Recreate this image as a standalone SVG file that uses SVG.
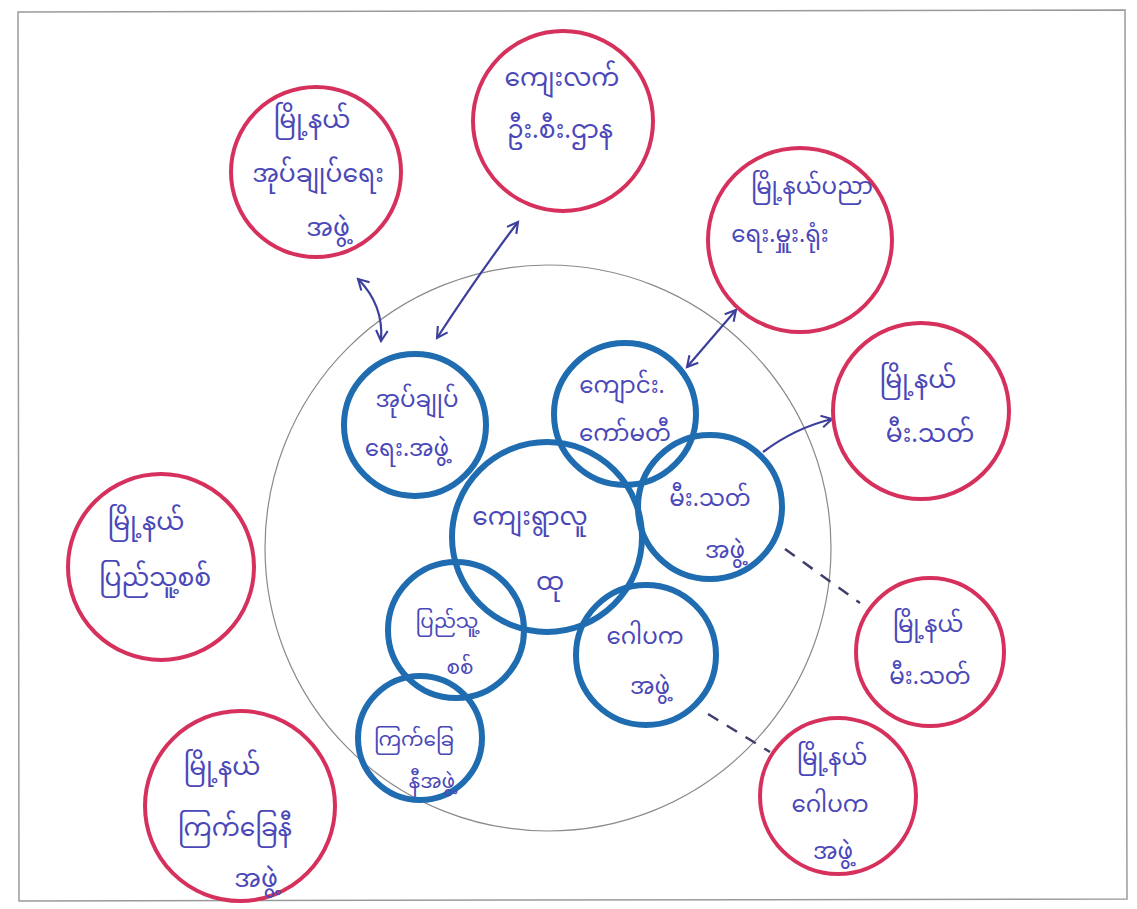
<svg xmlns="http://www.w3.org/2000/svg" width="1137" height="909" viewBox="0 0 1137 909">
<style>
.red{fill:none;stroke:#d6315c;stroke-width:4}
.blue{fill:none;stroke:#1f6cb0;stroke-width:6}
.t{font-family:"Noto Sans Myanmar","Padauk","Myanmar Text","Noto Sans","DejaVu Sans",sans-serif;fill:#4a48b8;text-anchor:middle}
.r{font-size:25px}
.b{font-size:23px}
.s{font-size:20px}
.arr{fill:none;stroke:#3d3f9c;stroke-width:2.2}
.dash{fill:none;stroke:#3d3f6a;stroke-width:2.5;stroke-dasharray:12 10}
</style>
<defs>
<marker id="ah" viewBox="0 0 12 12" refX="10" refY="6" markerWidth="14" markerHeight="14" markerUnits="userSpaceOnUse" orient="auto-start-reverse">
<path d="M1,1 L10,6 L1,11" fill="none" stroke="#3d3f9c" stroke-width="1.8"/>
</marker>
</defs>
<rect width="1137" height="909" fill="#ffffff"/>
<path d="M18,12 L1125,10 L1127,899 L19,901 Z" fill="none" stroke="#9a9a9a" stroke-width="1.5"/>
<circle cx="548" cy="548" r="283" fill="none" stroke="#8a8a8a" stroke-width="1.2"/>
<g id="connectors">
<path class="arr" d="M358,279 Q384,305 381,341" marker-start="url(#ah)" marker-end="url(#ah)"/>
<path class="arr" d="M518,222 Q478,275 437,338" marker-start="url(#ah)" marker-end="url(#ah)"/>
<path class="arr" d="M736,310 L687,367" marker-start="url(#ah)" marker-end="url(#ah)"/>
<path class="arr" d="M763,452 Q795,428 832,419" marker-end="url(#ah)"/>
<path class="dash" d="M785,549 L860,603"/>
<path class="dash" d="M708,714 L770,752"/>
</g>
<g id="n-township-admin"><circle class="red" cx="316" cy="172" r="85"/>
<text class="t r" x="312" y="128">မြို့နယ်</text><text class="t r" x="318" y="182">အုပ်ချုပ်ရေး</text><text class="t r" x="328" y="236">အဖွဲ့</text></g>
<g id="n-rural-dev"><circle class="red" cx="563" cy="121" r="90"/>
<text class="t r" x="562" y="86">ကျေးလက်</text><text class="t r" x="560" y="138">ဦး.စီး.ဌာန</text></g>
<g id="n-education"><circle class="red" cx="800" cy="240" r="92"/>
<text class="t b" x="812" y="194">မြို့နယ်ပညာ</text><text class="t b" x="780" y="242">ရေး.မှူး.ရုံး</text></g>
<g id="n-fire-town"><circle class="red" cx="921" cy="411" r="88"/>
<text class="t r" x="918" y="388">မြို့နယ်</text><text class="t r" x="930" y="442">မီး.သတ်</text></g>
<g id="n-militia-town"><circle class="red" cx="161" cy="567" r="93"/>
<text class="t r" x="146" y="530">မြို့နယ်</text><text class="t r" x="155" y="586">ပြည်သူ့စစ်</text></g>
<g id="n-redcross-town"><circle class="red" cx="240" cy="806" r="95"/>
<text class="t r" x="222" y="775">မြို့နယ်</text><text class="t r" x="235" y="836">ကြက်ခြေနီ</text><text class="t r" x="256" y="887">အဖွဲ့</text></g>
<g id="n-fire-town2"><circle class="red" cx="930" cy="652" r="74"/>
<text class="t b" x="928" y="632">မြို့နယ်</text><text class="t b" x="930" y="684">မီး.သတ်</text></g>
<g id="n-gopaka-town"><circle class="red" cx="838" cy="796" r="78"/>
<text class="t b" x="832" y="765">မြို့နယ်</text><text class="t b" x="830" y="812">ဂေါပက</text><text class="t b" x="833" y="859">အဖွဲ့</text></g>
<g id="n-admin"><circle class="blue" cx="415" cy="425" r="71"/>
<text class="t b" x="417" y="407">အုပ်ချုပ်</text><text class="t b" x="407" y="456">ရေး.အဖွဲ့</text></g>
<g id="n-school"><circle class="blue" cx="625" cy="414" r="71"/>
<text class="t b" x="622" y="393">ကျောင်း.</text><text class="t b" x="625" y="441">ကော်မတီ</text></g>
<g id="n-center"><circle class="blue" cx="547" cy="537" r="95"/>
<text class="t r" x="530" y="525">ကျေးရွာလူ</text><text class="t r" x="550" y="590">ထု</text></g>
<g id="n-fire"><circle class="blue" cx="710" cy="507" r="72"/>
<text class="t b" x="710" y="506">မီး.သတ်</text><text class="t b" x="725" y="558">အဖွဲ့</text></g>
<g id="n-militia"><circle class="blue" cx="456" cy="630" r="68"/>
<text class="t s" x="447" y="628">ပြည်သူ့</text><text class="t s" x="460" y="674">စစ်</text></g>
<g id="n-gopaka"><circle class="blue" cx="646" cy="655" r="70"/>
<text class="t b" x="645" y="644">ဂေါပက</text><text class="t b" x="650" y="694">အဖွဲ့</text></g>
<g id="n-redcross"><circle class="blue" cx="420" cy="738" r="62"/>
<text class="t s" x="414" y="746">ကြက်ခြေ</text><text class="t s" x="432" y="788">နီအဖွဲ့</text></g>
</svg>
